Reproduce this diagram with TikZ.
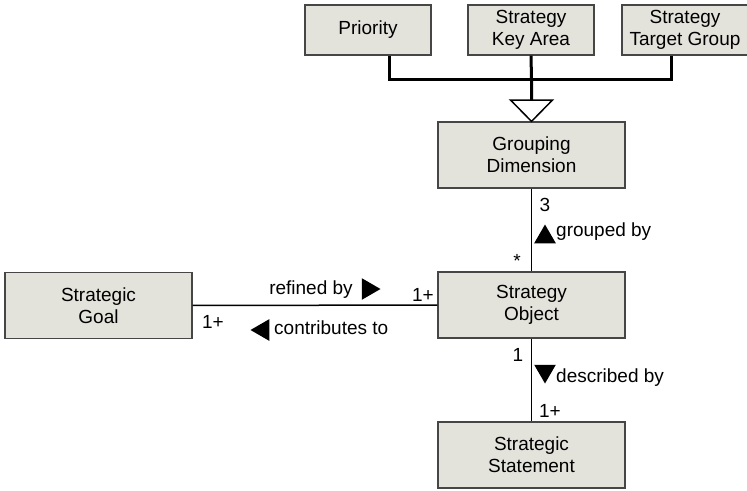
\documentclass[tikz,border=0pt]{standalone}
\usepackage{fontspec}
\setmainfont{Liberation Sans}
\usetikzlibrary{shapes.geometric}
\definecolor{boxfill}{RGB}{228,227,219}
\definecolor{boxline}{RGB}{70,70,70}
\tikzset{
  classbox/.style={draw=boxline, fill=boxfill, line width=1.2pt, minimum width=187pt, minimum height=66pt, align=center, inner sep=0pt},
  smallbox/.style={classbox, minimum width=126pt, minimum height=50pt},
  assoc/.style={line width=1.5pt},
  genline/.style={line width=3pt},
  lbl/.style={inner sep=0pt},
  tri/.style={fill=black, regular polygon, regular polygon sides=3, inner sep=0pt, minimum size=25pt},
}

\begin{document}
\begin{tikzpicture}[x=1pt, y=-1pt, font=\fontsize{19}{22}\selectfont]
\clip (0,0) rectangle (747,490);
% the three kinds of grouping
\node [smallbox] (prio) at (368,30) {Priority};
\node [smallbox] (keyarea) at (531,30) {Strategy\\Key Area};
\node [smallbox] (target) at (685,30) {Strategy\\Target Group};
% classes
\node [classbox] (group) at (531.5,155) {Grouping\\Dimension};
\node [classbox] (object) at (531.5,305) {Strategy\\Object};
\node [classbox] (goal) at (98.5,305.5) {Strategic\\Goal};
\node [classbox] (statement) at (531.5,455) {Strategic\\Statement};
% generalization
\coordinate (junction) at (531.5,79);
\coordinate (head) at (531.5,100);
\draw [genline] ([xshift=21pt]prio.south) |- (junction) -| ([xshift=-14pt]target.south);
\draw [genline] (keyarea.south) -- (junction) -- (head);
\draw [line width=1.5pt, fill=white, line join=miter] ([xshift=-21pt]head) -- ([xshift=21pt]head) -- (group.north) -- cycle;
% associations
\draw [assoc] (group) -- (object);
\draw [assoc] (goal) -- (object);
\draw [assoc] (object) -- (statement);
% grouped by
\node [lbl] (g3) at (545,205) {3};
\node [lbl] (gstar) at (517,261) {*};
\node [tri] (gtri) at (545,237) {};
\node [lbl, anchor=west] (gtext) at (556,232) {grouped by};
% refined by / contributes to
\node [lbl] (rtext) at (311,290) {refined by};
\node [tri, shape border rotate=-90] (rtri) at (368,289) {};
\node [lbl] (r1) at (423,295) {1+};
\node [lbl] (c1) at (213,322) {1+};
\node [tri, shape border rotate=90] (ctri) at (263,330) {};
\node [lbl, anchor=west] (ctext) at (274,328) {contributes to};
% described by
\node [lbl] (d1) at (518,355) {1};
\node [tri, shape border rotate=180] (dtri) at (545,371) {};
\node [lbl, anchor=west] (dtext) at (556,378) {described by};
\node [lbl] (d2) at (550,411) {1+};
\end{tikzpicture}
\end{document}
